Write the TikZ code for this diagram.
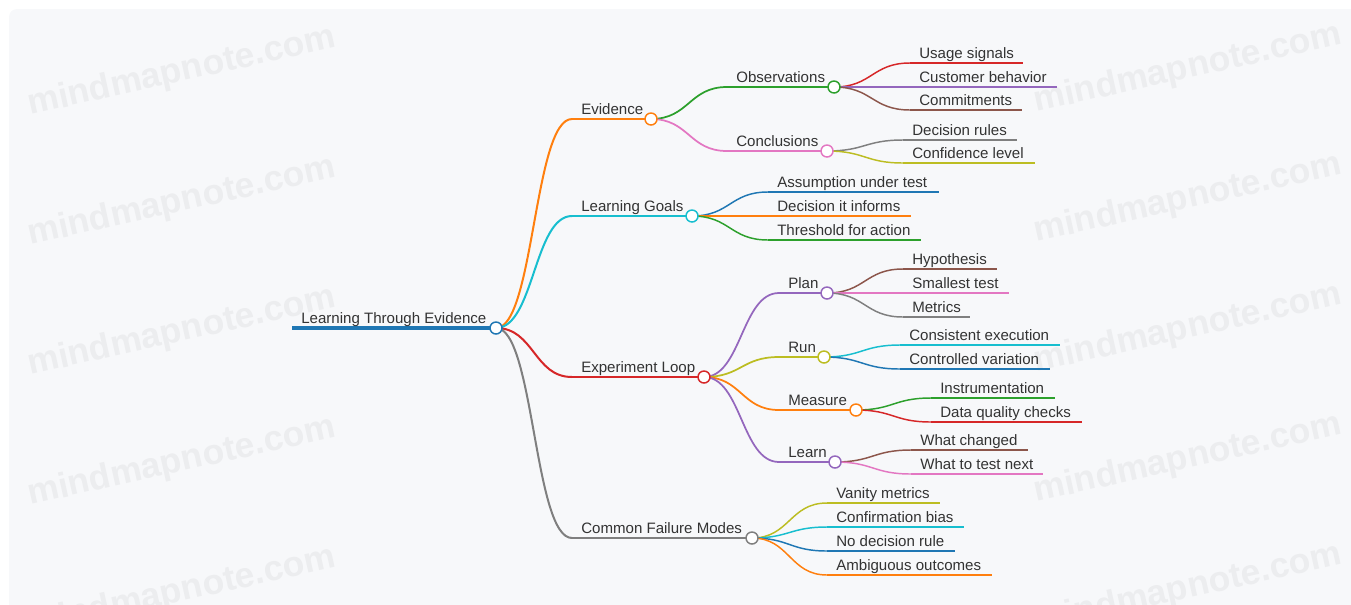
\documentclass[tikz,border=0pt]{standalone}
\usepackage{fontspec}
\setmainfont{Liberation Sans}
\usetikzlibrary{calc}
\definecolor{cblue}{HTML}{1F77B4}
\definecolor{corange}{HTML}{FF7F0E}
\definecolor{cgreen}{HTML}{2CA02C}
\definecolor{cred}{HTML}{D62728}
\definecolor{cpurple}{HTML}{9467BD}
\definecolor{cbrown}{HTML}{8C564B}
\definecolor{cpink}{HTML}{E377C2}
\definecolor{cgray}{HTML}{7F7F7F}
\definecolor{colive}{HTML}{BCBD22}
\definecolor{ccyan}{HTML}{17BECF}
\definecolor{bgc}{HTML}{F7F8FA}
\definecolor{wmc}{HTML}{ECEDEF}
\definecolor{txtc}{HTML}{333333}
\newcommand\mmlink[4]{%
  \draw[#3, line width=#4] let \p1=(#1), \p2=(#2) in
    (\p1) .. controls ({0.5*\x1+0.5*\x2},\y1) and ({0.5*\x1+0.5*\x2},\y2) .. (\p2);}
% #1 name, #2 parent, #3 colour, #4 x start, #5 x end, #6 y, #7 text, #8 width
\newcommand\mmtopic[8]{%
  \coordinate (#1s) at (#4,#6);
  \coordinate (#1e) at (#5,#6);
  \mmlink{#2e}{#1s}{#3}{#8}
  \draw[#3, line width=#8] (#1s) -- (#1e);
  \node[lbl] (#1t) at (#4+9,#6-5) {#7};}
\begin{document}
\begin{tikzpicture}[x=0.75pt,y=-0.75pt,
  lbl/.style={anchor=base west, inner sep=0pt, text=txtc, font=\fontsize{11.3}{13}\selectfont},
  dot/.style={circle, draw=#1, fill=white, line width=1.1pt, minimum size=9pt, inner sep=0pt},
  wmark/.style={rotate=12.5, text=wmc, font=\fontsize{26.5}{30}\selectfont\bfseries, inner sep=0pt}]
\useasboundingbox (0,0) rectangle (1351,604);
\fill[bgc, rounded corners=6pt] (9,9) rectangle (1380,640);
\foreach \yy in {72,202,332,462,592} {
  \node[wmark] (wmL\yy) at (182,\yy) {mindmapnote.com};
  \node[wmark] (wmR\yy) at (1188,\yy-3) {mindmapnote.com};
}
% root
\coordinate (roots) at (292,328);
\coordinate (roote) at (496,328);
\draw[cblue, line width=3pt] (roots) -- (roote);
\node[lbl] (roott) at (301,323) {Learning Through Evidence};
% level 1
\mmtopic{ev}{root}{corange}{572}{651}{119}{Evidence}{1.5pt}
\mmtopic{lg}{root}{ccyan}{572}{692}{216}{Learning Goals}{1.5pt}
\mmtopic{el}{root}{cred}{572}{704}{377}{Experiment Loop}{1.5pt}
\mmtopic{cf}{root}{cgray}{572}{752}{538}{Common Failure Modes}{1.5pt}
% level 2
\mmtopic{ob}{ev}{cgreen}{727}{834}{87}{Observations}{1.3pt}
\mmtopic{co}{ev}{cpink}{727}{827}{151}{Conclusions}{1.3pt}
\mmtopic{lga}{lg}{cblue}{768}{939}{192}{Assumption under test}{1.1pt}
\mmtopic{lgb}{lg}{corange}{768}{911}{216}{Decision it informs}{1.1pt}
\mmtopic{lgc}{lg}{cgreen}{768}{921}{240}{Threshold for action}{1.1pt}
\mmtopic{pl}{el}{cpurple}{779}{827}{293}{Plan}{1.3pt}
\mmtopic{ru}{el}{colive}{779}{824}{357}{Run}{1.3pt}
\mmtopic{me}{el}{corange}{779}{856}{410}{Measure}{1.3pt}
\mmtopic{le}{el}{cpurple}{779}{835}{462}{Learn}{1.3pt}
\mmtopic{cfa}{cf}{colive}{827}{940}{503}{Vanity metrics}{1.1pt}
\mmtopic{cfb}{cf}{ccyan}{827}{964}{527}{Confirmation bias}{1.1pt}
\mmtopic{cfc}{cf}{cblue}{827}{955}{551}{No decision rule}{1.1pt}
\mmtopic{cfd}{cf}{corange}{827}{992}{575}{Ambiguous outcomes}{1.1pt}
% level 3
\mmtopic{us}{ob}{cred}{910}{1023}{63}{Usage signals}{1.1pt}
\mmtopic{cb}{ob}{cpurple}{910}{1057}{87}{Customer behavior}{1.1pt}
\mmtopic{cm}{ob}{cbrown}{910}{1022}{110}{Commitments}{1.1pt}
\mmtopic{dr}{co}{cgray}{903}{1017}{140}{Decision rules}{1.1pt}
\mmtopic{cl}{co}{colive}{903}{1035}{163}{Confidence level}{1.1pt}
\mmtopic{hy}{pl}{cbrown}{903}{997}{269}{Hypothesis}{1.1pt}
\mmtopic{st}{pl}{cpink}{903}{1009}{293}{Smallest test}{1.1pt}
\mmtopic{mt}{pl}{cgray}{903}{970}{317}{Metrics}{1.1pt}
\mmtopic{ce}{ru}{ccyan}{900}{1060}{345}{Consistent execution}{1.1pt}
\mmtopic{cv}{ru}{cblue}{900}{1050}{369}{Controlled variation}{1.1pt}
\mmtopic{in}{me}{cgreen}{931}{1055}{398}{Instrumentation}{1.1pt}
\mmtopic{dq}{me}{cred}{931}{1082}{422}{Data quality checks}{1.1pt}
\mmtopic{wc}{le}{cbrown}{911}{1028}{450}{What changed}{1.1pt}
\mmtopic{wt}{le}{cpink}{911}{1043}{474}{What to test next}{1.1pt}
% circles
\foreach \n/\c in {root/cblue, ev/corange, lg/ccyan, el/cred, cf/cgray,
  ob/cgreen, co/cpink, pl/cpurple, ru/colive, me/corange, le/cpurple}
  \node[dot=\c] (\n c) at (\n e) {};
\end{tikzpicture}
\end{document}
